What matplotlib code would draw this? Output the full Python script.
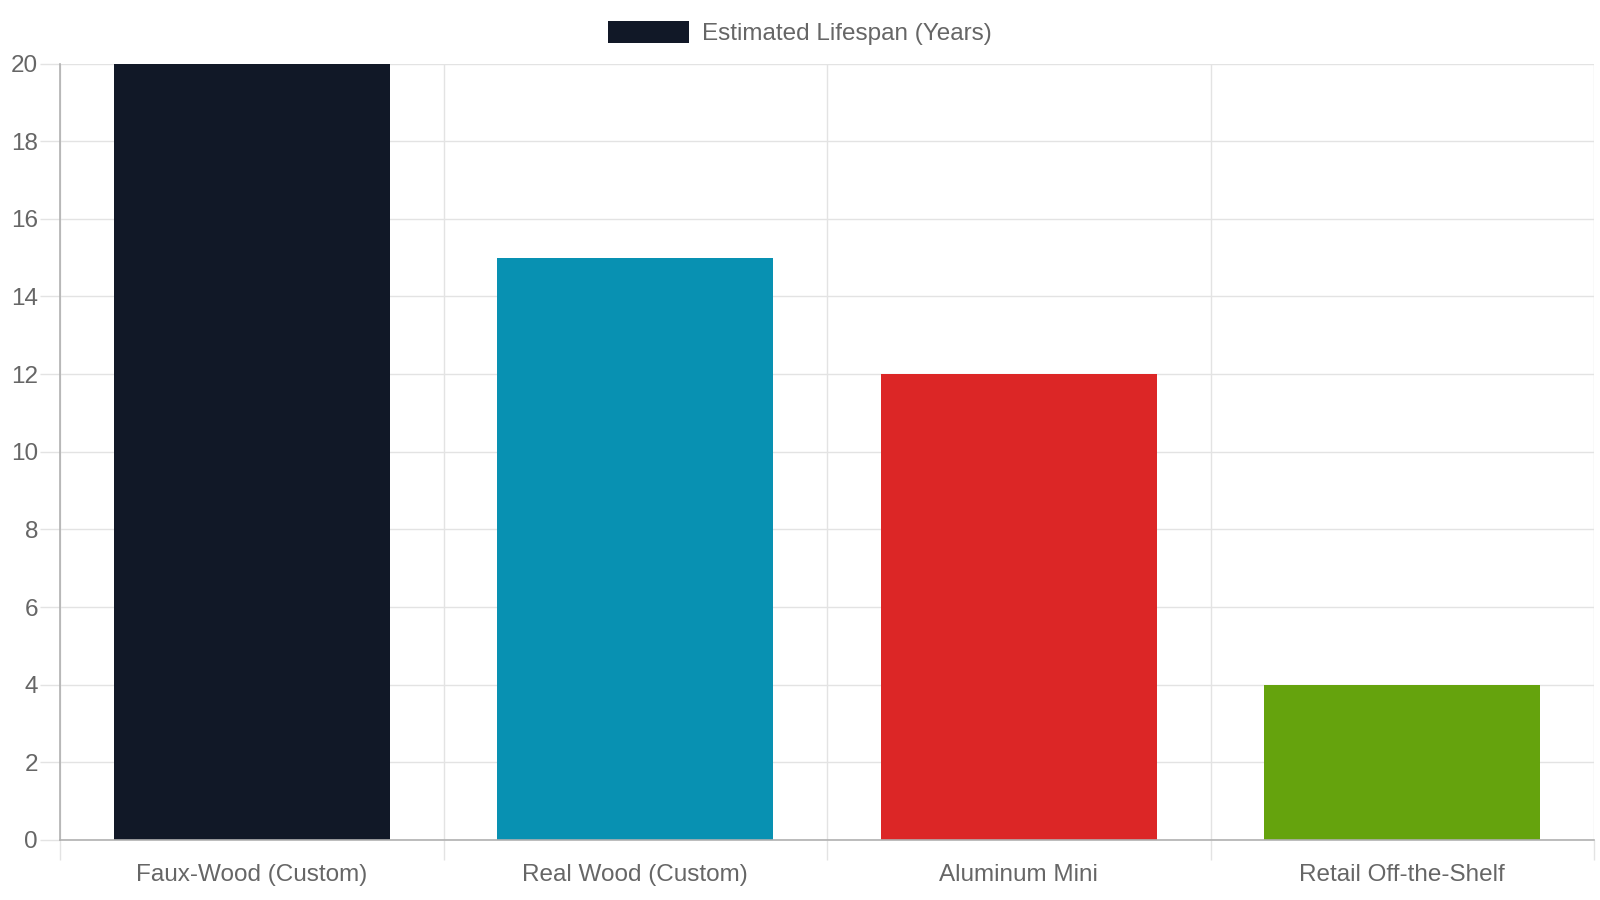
import matplotlib.pyplot as plt
from matplotlib.patches import Patch
import numpy as np

# chart data
categories = ['Faux-Wood (Custom)', 'Real Wood (Custom)', 'Aluminum Mini', 'Retail Off-the-Shelf']
lifespan = [20, 15, 12, 4]
bar_colors = ['#111827', '#0891b2', '#dc2626', '#65a30d']
series_label = 'Estimated Lifespan (Years)'
y_ticks = list(range(0, 21, 2))

plt.rcParams['font.family'] = ['Liberation Sans', 'DejaVu Sans']
grid_color = '#e3e3e3'
axis_color = '#b0b0b0'
text_color = '#666666'
fs = 17.5
tick_len = 14.4  # points, ~20 px

fig = plt.figure(figsize=(16, 9), dpi=100)
ax = fig.add_axes([60 / 1600, 60 / 900, 1534 / 1600, 776.5 / 900])

x = np.arange(len(categories))
ax.bar(x, lifespan, width=0.72, color=bar_colors, zorder=3)

ax.set_xlim(-0.5, len(categories) - 0.5)
ax.set_ylim(0, 20)

# y axis ticks and horizontal grid
ax.set_yticks(y_ticks)
ax.tick_params(axis='y', length=tick_len, width=1, color=grid_color, pad=1.5,
               labelsize=fs, labelcolor=text_color)
ax.yaxis.grid(True, color=grid_color, linewidth=1, zorder=0)

# x axis: labels at centers, grid lines at category boundaries
ax.set_xticks(x)
ax.set_xticklabels(categories)
ax.tick_params(axis='x', which='major', length=0, pad=17,
               labelsize=fs, labelcolor=text_color)
ax.set_xticks(np.arange(-0.5, len(categories)), minor=True)
ax.tick_params(axis='x', which='minor', length=tick_len, width=1, color=grid_color)
ax.xaxis.grid(True, which='minor', color=grid_color, linewidth=1, zorder=0)
ax.xaxis.grid(False, which='major')

for side in ['top', 'right']:
    ax.spines[side].set_visible(False)
for side in ['left', 'bottom']:
    ax.spines[side].set_color(axis_color)
    ax.spines[side].set_linewidth(1.2)
    ax.spines[side].set_zorder(4)

handle = Patch(facecolor=bar_colors[0], edgecolor='none')
fig.legend([handle], [series_label], loc='center', bbox_to_anchor=(0.5, 1 - 33 / 900),
           frameon=False, fontsize=fs, labelcolor=text_color,
           handlelength=3.3, handleheight=1.0, handletextpad=0.55)

fig.savefig('out.png', dpi=100)
